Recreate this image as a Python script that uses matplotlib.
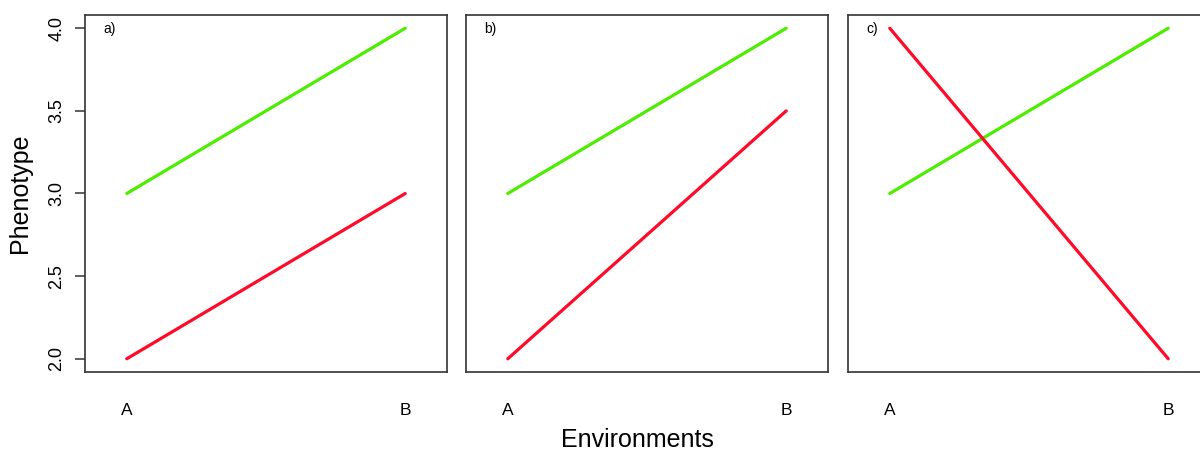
import matplotlib
matplotlib.use("Agg")
from matplotlib import pyplot as plt

plt.rcParams['font.family'] = ['Liberation Sans', 'DejaVu Sans']

envs = ["A", "B"]
env_pos = [1, 2]
panels = ["a)", "b)", "c)"]
green_vals = [[3.0, 4.0], [3.0, 4.0], [3.0, 4.0]]
red_vals = [[2.0, 3.0], [2.0, 3.5], [4.0, 2.0]]
yticks = [2.0, 2.5, 3.0, 3.5, 4.0]

green = '#4cee00'
red = '#ff0a28'

fig = plt.figure(figsize=(12, 4.5), dpi=100)
lefts = [85 / 1200, 466 / 1200, 848 / 1200]

for i, left in enumerate(lefts):
    ax = fig.add_axes([left, 78 / 450, 362 / 1200, 357 / 450])
    ax.plot(env_pos, green_vals[i], color=green, lw=2.3, solid_capstyle='round')
    ax.plot(env_pos, red_vals[i], color=red, lw=2.3, solid_capstyle='round')
    ax.set_xlim(0.85, 2.15)
    ax.set_ylim(1.92, 4.08)
    ax.set_xticks(env_pos)
    ax.set_xticklabels(envs, fontsize=12.5)
    ax.tick_params(axis='x', length=0, pad=22)
    for sp in ax.spines.values():
        sp.set_color('#333333')
        sp.set_linewidth(1.2)
    if i == 0:
        ax.set_yticks(yticks)
        ax.set_yticklabels([f"{t:.1f}" for t in yticks], rotation=90,
                           va='center', fontsize=13)
        ax.tick_params(axis='y', length=7, width=1.1, color='#333333', pad=7)
        ax.set_ylabel("Phenotype", fontsize=18, labelpad=12)
    else:
        ax.set_yticks([])
    ax.text(0.05, 0.962, panels[i], transform=ax.transAxes, fontsize=10,
            ha='left', va='center')

fig.text(0.531, 0.022, "Environments", ha='center', va='center', fontsize=18)

fig.savefig("out.png", dpi=100)
